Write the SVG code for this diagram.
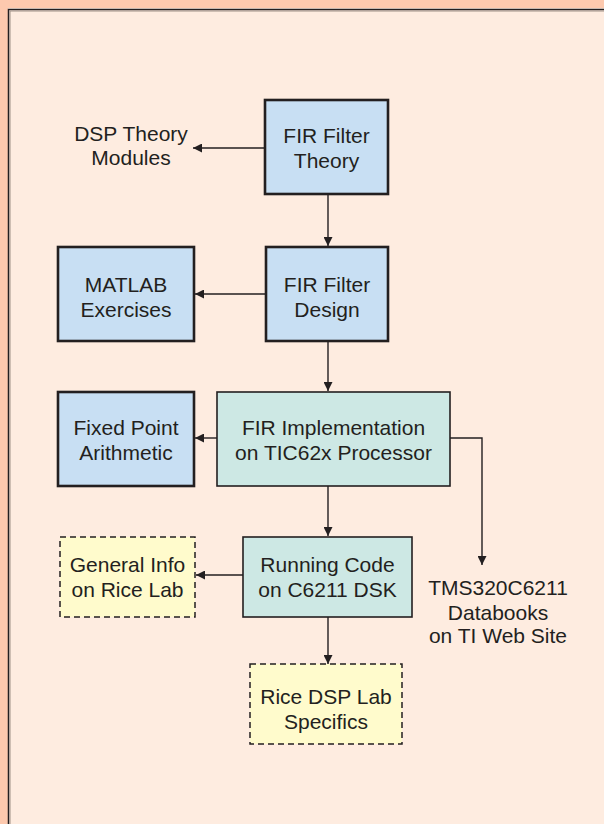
<svg xmlns="http://www.w3.org/2000/svg" width="604" height="824" viewBox="0 0 604 824">
<defs>
<style>
text{font-family:"Liberation Sans",Arial,sans-serif;font-size:21px;fill:#231f20;text-anchor:middle}
.blue{fill:#c8dff3;stroke:#231f20;stroke-width:2.6}
.teal{fill:#cde8e4;stroke:#231f20;stroke-width:1.6}
.yel{fill:#fffbcc;stroke:#231f20;stroke-width:1.5;stroke-dasharray:6 4}
.con{fill:none;stroke:#231f20;stroke-width:1.4}
</style>
<marker id="ah" viewBox="0 0 10 10" refX="10" refY="5" markerWidth="9" markerHeight="9" markerUnits="userSpaceOnUse" orient="auto">
<path d="M0,0 L10,5 L0,10 Z" fill="#231f20"/>
</marker>
</defs>
<rect x="0" y="0" width="604" height="824" fill="#fdc9ae"/>
<rect x="8" y="8" width="596" height="816" fill="#feece0"/>
<path d="M8.5,824 V9.5 H604" fill="none" stroke="#231f20" stroke-width="1.5"/>
<path d="M10,824 V11 H604" fill="none" stroke="#9e8f86" stroke-width="1"/>

<g id="connectors">
<line class="con" x1="265" y1="148" x2="193" y2="148" marker-end="url(#ah)"/>
<line class="con" x1="328" y1="194" x2="328" y2="246" marker-end="url(#ah)"/>
<line class="con" x1="266" y1="294" x2="195" y2="294" marker-end="url(#ah)"/>
<line class="con" x1="328" y1="341" x2="328" y2="391" marker-end="url(#ah)"/>
<line class="con" x1="217" y1="438" x2="195" y2="438" marker-end="url(#ah)"/>
<polyline class="con" points="450,438 482,438 482,565" marker-end="url(#ah)"/>
<line class="con" x1="328" y1="486" x2="328" y2="536" marker-end="url(#ah)"/>
<line class="con" x1="243" y1="575" x2="196" y2="575" marker-end="url(#ah)"/>
<line class="con" x1="328" y1="617" x2="328" y2="664" marker-end="url(#ah)"/>
</g>

<g id="dsp-theory">
<text x="131" y="141">DSP Theory</text>
<text x="131" y="165">Modules</text>
</g>
<g id="fir-theory">
<rect class="blue" x="265" y="100" width="123" height="94"/>
<text x="326.5" y="143">FIR Filter</text>
<text x="326.5" y="168">Theory</text>
</g>
<g id="matlab">
<rect class="blue" x="58" y="247" width="136" height="94"/>
<text x="126" y="292">MATLAB</text>
<text x="126" y="317">Exercises</text>
</g>
<g id="fir-design">
<rect class="blue" x="266" y="247" width="122" height="94"/>
<text x="327" y="292">FIR Filter</text>
<text x="327" y="317">Design</text>
</g>
<g id="fixed-point">
<rect class="blue" x="58" y="392" width="136" height="94"/>
<text x="126" y="435">Fixed Point</text>
<text x="126" y="460">Arithmetic</text>
</g>
<g id="fir-impl">
<rect class="teal" x="217" y="392" width="233" height="94"/>
<text x="333.5" y="435">FIR Implementation</text>
<text x="333.5" y="460">on TIC62x Processor</text>
</g>
<g id="tms">
<text x="498" y="595">TMS320C6211</text>
<text x="498" y="620">Databooks</text>
<text x="498" y="643">on TI Web Site</text>
</g>
<g id="general-info">
<rect class="yel" x="60" y="537" width="135" height="80"/>
<text x="127.5" y="572">General Info</text>
<text x="127.5" y="597">on Rice Lab</text>
</g>
<g id="running-code">
<rect class="teal" x="243" y="537" width="169" height="80"/>
<text x="327.5" y="572">Running Code</text>
<text x="327.5" y="597">on C6211 DSK</text>
</g>
<g id="rice-dsp">
<rect class="yel" x="250" y="664" width="152" height="80"/>
<text x="326" y="704">Rice DSP Lab</text>
<text x="326" y="729">Specifics</text>
</g>
</svg>
